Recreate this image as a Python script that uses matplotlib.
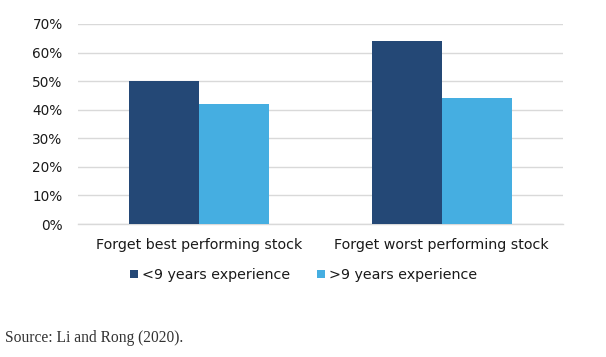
import matplotlib.pyplot as plt
import numpy as np
from matplotlib.ticker import PercentFormatter

# data
categories = ['Forget best performing stock', 'Forget worst performing stock']
series_names = ['<9 years experience', '>9 years experience']
under_9 = [0.50, 0.64]
over_9 = [0.42, 0.44]
colors = ['#244876', '#45AEE1']

fig = plt.figure(figsize=(6.06, 3.57), dpi=100)
ax = fig.add_axes([0.1287, 0.3725, 0.8003, 0.5603])

x = np.arange(len(categories))
w = 0.289
ax.bar(x - w/2, under_9, w, color=colors[0], label=series_names[0], zorder=3)
ax.bar(x + w/2, over_9, w, color=colors[1], label=series_names[1], zorder=3)

ax.set_xlim(-0.5, len(categories) - 0.5)
ax.set_ylim(0, 0.7)
ax.set_yticks(np.arange(0, 0.71, 0.1))
ax.yaxis.set_major_formatter(PercentFormatter(1.0, decimals=0))
ax.set_xticks(x)
ax.set_xticklabels(categories)
ax.tick_params(length=0, colors='#1a1a1a')
ax.tick_params(axis='y', pad=11, labelsize=9.8)
ax.tick_params(axis='x', pad=10, labelsize=10.3)
ax.grid(axis='y', color='#d9d9d9', linewidth=1, zorder=0)
for s in ['top', 'right', 'left']:
    ax.spines[s].set_visible(False)
ax.spines['bottom'].set_color('#d9d9d9')
ax.spines['bottom'].set_linewidth(1)

leg = fig.legend(loc='center', bbox_to_anchor=(0.501, 1 - 275/357), ncol=2, frameon=False,
                 fontsize=10.3, handlelength=0.56, handleheight=0.56, handletextpad=0.25,
                 columnspacing=1.9)
for t in leg.get_texts():
    t.set_color('#1a1a1a')

fig.text(0.008, 1 - 338/357, 'Source: Li and Rong (2020).', family='Liberation Serif',
         fontsize=11.2, color='#333333', va='center')

fig.savefig('out.png', dpi=100)
